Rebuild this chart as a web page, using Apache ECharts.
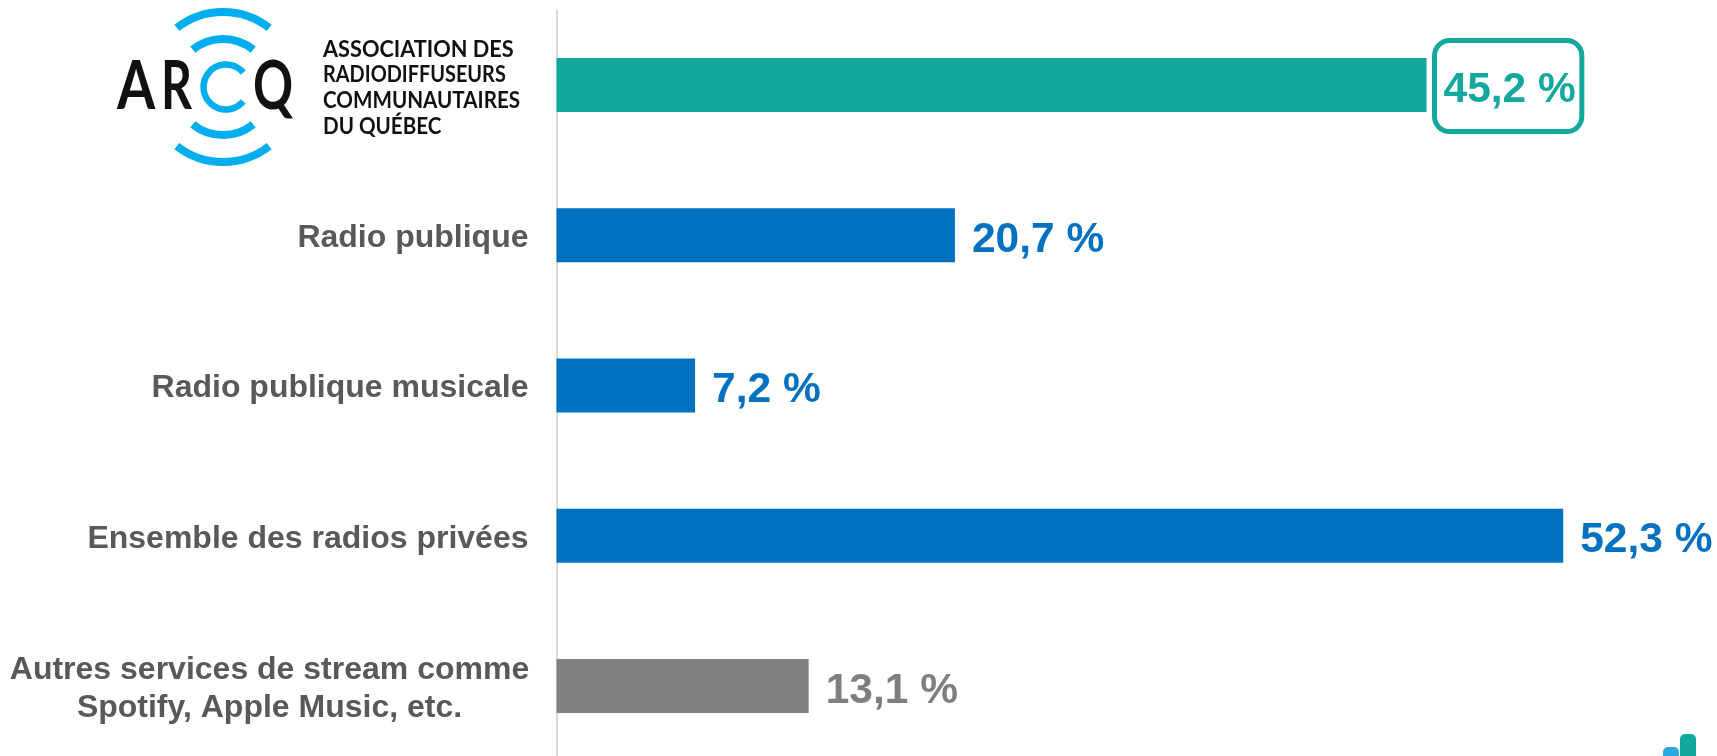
<!DOCTYPE html>
<html><head><meta charset="utf-8">
<style>html,body{margin:0;padding:0;background:#fff}#c{width:1717px;height:756px}</style>
<script src="https://cdn.jsdelivr.net/npm/echarts@6/dist/echarts.min.js"></script></head>
<body><div id="c"></div>
<script>
const categories = ['', 'Radio publique', 'Radio publique musicale', 'Ensemble des radios privées', 'Autres services de stream comme\nSpotify, Apple Music, etc.'];
const values = [45.2, 20.7, 7.2, 52.3, 13.1];
const barColors = ['#13A89E', '#0070C0', '#0070C0', '#0070C0', '#7F7F7F'];
const logoLines = ['ASSOCIATION DES', 'RADIODIFFUSEURS', 'COMMUNAUTAIRES', 'DU QUÉBEC'];
const fmt = v => v.toFixed(1).replace('.', ',') + ' %';
const SANS = '"Liberation Sans", Arial, sans-serif';
const chart = echarts.init(document.getElementById('c'), null, {renderer:'canvas'});
const arc = (cx, cy, r, a0, a1, w) => ({type:'arc', shape:{cx, cy, r, startAngle:a0*Math.PI/180, endAngle:a1*Math.PI/180}, style:{stroke:'#00AEEF', lineWidth:w, fill:null, lineCap:'butt'}, silent:true});
const logoText = (t, x, y, size, weight, sx) => ({type:'text', x, y, scaleX:sx||1, style:{text:t, fill:'#111', font:`${weight||400} ${size}px Lato, sans-serif`, textAlign:'left', textVerticalAlign:'middle'}, silent:true});
chart.setOption({
  animation:false,
  backgroundColor:'#fff',
  grid:{left:556.5, top:10, width:1154.9, height:751, containLabel:false, outerBoundsMode:'none'},
  xAxis:{type:'value', min:0, max:60, show:false},
  yAxis:{type:'category', inverse:true, data:categories,
    axisTick:{show:false},
    axisLine:{show:true, lineStyle:{color:'#D9D9D9', width:2}},
    axisLabel:{margin:28, color:'#595959', fontFamily:SANS, fontWeight:'bold', fontSize:32, padding:[6,0,0,0],
      formatter:v => v.includes('\n') ? v.split('\n').map(s=>`{c|${s}}`).join('\n') : v,
      rich:{c:{width:518, align:'center', color:'#595959', fontFamily:SANS, fontWeight:'bold', fontSize:32, lineHeight:38}}}},
  series:[{type:'bar', barWidth:54,
    data:values.map((v,i)=>({value:v, itemStyle:{color:barColors[i]},
      label:Object.assign({color:barColors[i]}, i===0
        ? {distance:8, borderColor:'#13A89E', borderWidth:5, borderRadius:15, padding:[16.5,6,16.5,9], offset:[0,1],
           formatter:p=>`{s|}\n{t|${fmt(p.value)}}`,
           rich:{s:{fontSize:1, lineHeight:8}, t:{fontSize:42.5, lineHeight:50, fontFamily:SANS, fontWeight:'bold', color:barColors[0]}}}
        : {distance:17, offset:[0,5]})})),
    label:{show:true, position:'right', formatter:p=>fmt(p.value), fontFamily:SANS, fontWeight:'bold', fontSize:42.5},
  }],
  graphic:{elements:[
    arc(223,87,75,232,308,8), arc(223,87,48,231,309,8),
    arc(223,87,75,52,128,8), arc(223,87,48,51,129,8),
    arc(226,87,22.5,40,320,6.5),
    logoText('A',117,87,67,700,0.82), logoText('R',161,87,67,700,0.72), logoText('Q',253,87,67,700,0.74),
    ...logoLines.map((t,i)=>logoText(t,323,[50,75,101,127][i],22.5,700,[0.965,0.884,0.916,0.915][i])),
    {type:'rect', shape:{x:1663,y:747,width:16,height:30,r:5}, style:{fill:'#29ABE2'}, silent:true},
    {type:'rect', shape:{x:1680,y:734,width:16,height:40,r:5}, style:{fill:'#13A89E'}, silent:true}
  ]}
});
</script></body></html>
